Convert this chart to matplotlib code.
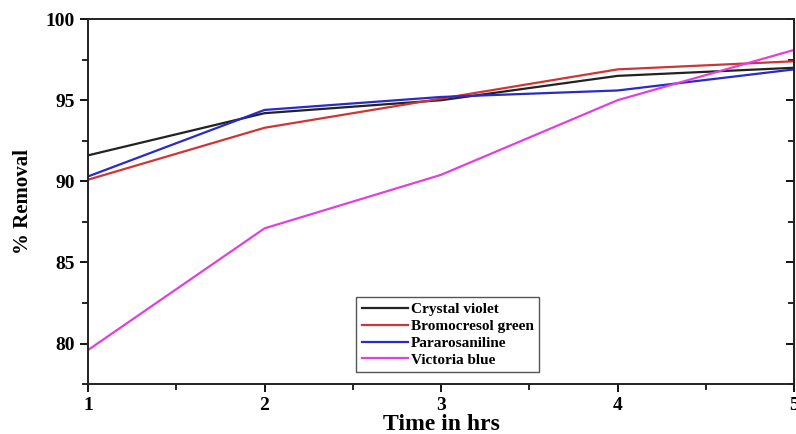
import matplotlib
matplotlib.use("Agg")
import matplotlib.pyplot as plt
from matplotlib.ticker import MultipleLocator

time_hrs = [1, 2, 3, 4, 5]
crystal_violet = [91.6, 94.2, 95.0, 96.5, 97.0]
bromocresol_green = [90.1, 93.3, 95.1, 96.9, 97.4]
pararosaniline = [90.3, 94.4, 95.2, 95.6, 96.9]
victoria_blue = [79.6, 87.1, 90.4, 95.0, 98.1]
series_names = ["Crystal violet", "Bromocresol green", "Pararosaniline", "Victoria blue"]
colors = ["#222222", "#d03535", "#2a2ac8", "#e040e0"]

plt.rcParams['font.family'] = ['Liberation Serif', 'DejaVu Serif']
plt.rcParams['font.weight'] = 'bold'

fig = plt.figure(figsize=(7.96, 4.34), dpi=100)
ax = fig.add_axes([0.1106, 0.115, 0.887, 0.841])

for vals, name, c in zip([crystal_violet, bromocresol_green, pararosaniline, victoria_blue], series_names, colors):
    ax.plot(time_hrs, vals, color=c, lw=1.6, label=name)

ax.set_xlim(1, 5)
ax.set_ylim(77.5, 100)
ax.xaxis.set_major_locator(MultipleLocator(1))
ax.xaxis.set_minor_locator(MultipleLocator(0.5))
ax.yaxis.set_major_locator(MultipleLocator(5))
ax.yaxis.set_minor_locator(MultipleLocator(2.5))
ax.tick_params(axis='both', which='major', direction='out', length=6, width=1.3, labelsize=14)
ax.tick_params(axis='both', which='minor', direction='out', length=4, width=1.2)
for lab in ax.get_xticklabels() + ax.get_yticklabels():
    lab.set_fontweight('bold')

# right side inward ticks
ay = ax.secondary_yaxis('right')
ay.yaxis.set_major_locator(MultipleLocator(5))
ay.yaxis.set_minor_locator(MultipleLocator(2.5))
ay.tick_params(axis='y', which='major', direction='in', length=6, width=1.3, labelright=False)
ay.tick_params(axis='y', which='minor', direction='in', length=4, width=1.2)

for s in ax.spines.values():
    s.set_linewidth(1.4)
    s.set_color('#222222')

ax.set_xlabel("Time in hrs", fontsize=17, fontweight='bold', labelpad=0)
ax.set_ylabel("% Removal", fontsize=15, fontweight='bold', labelpad=9)

leg = ax.legend(loc='lower left', bbox_to_anchor=(0.38, 0.033), borderaxespad=0, fancybox=False,
                edgecolor='#555555', framealpha=1, handlelength=3.0, handletextpad=0.2,
                borderpad=0.35, labelspacing=0.2, prop={'weight': 'bold', 'size': 11})
leg.get_frame().set_linewidth(1.0)

fig.savefig("out.png", dpi=100)
